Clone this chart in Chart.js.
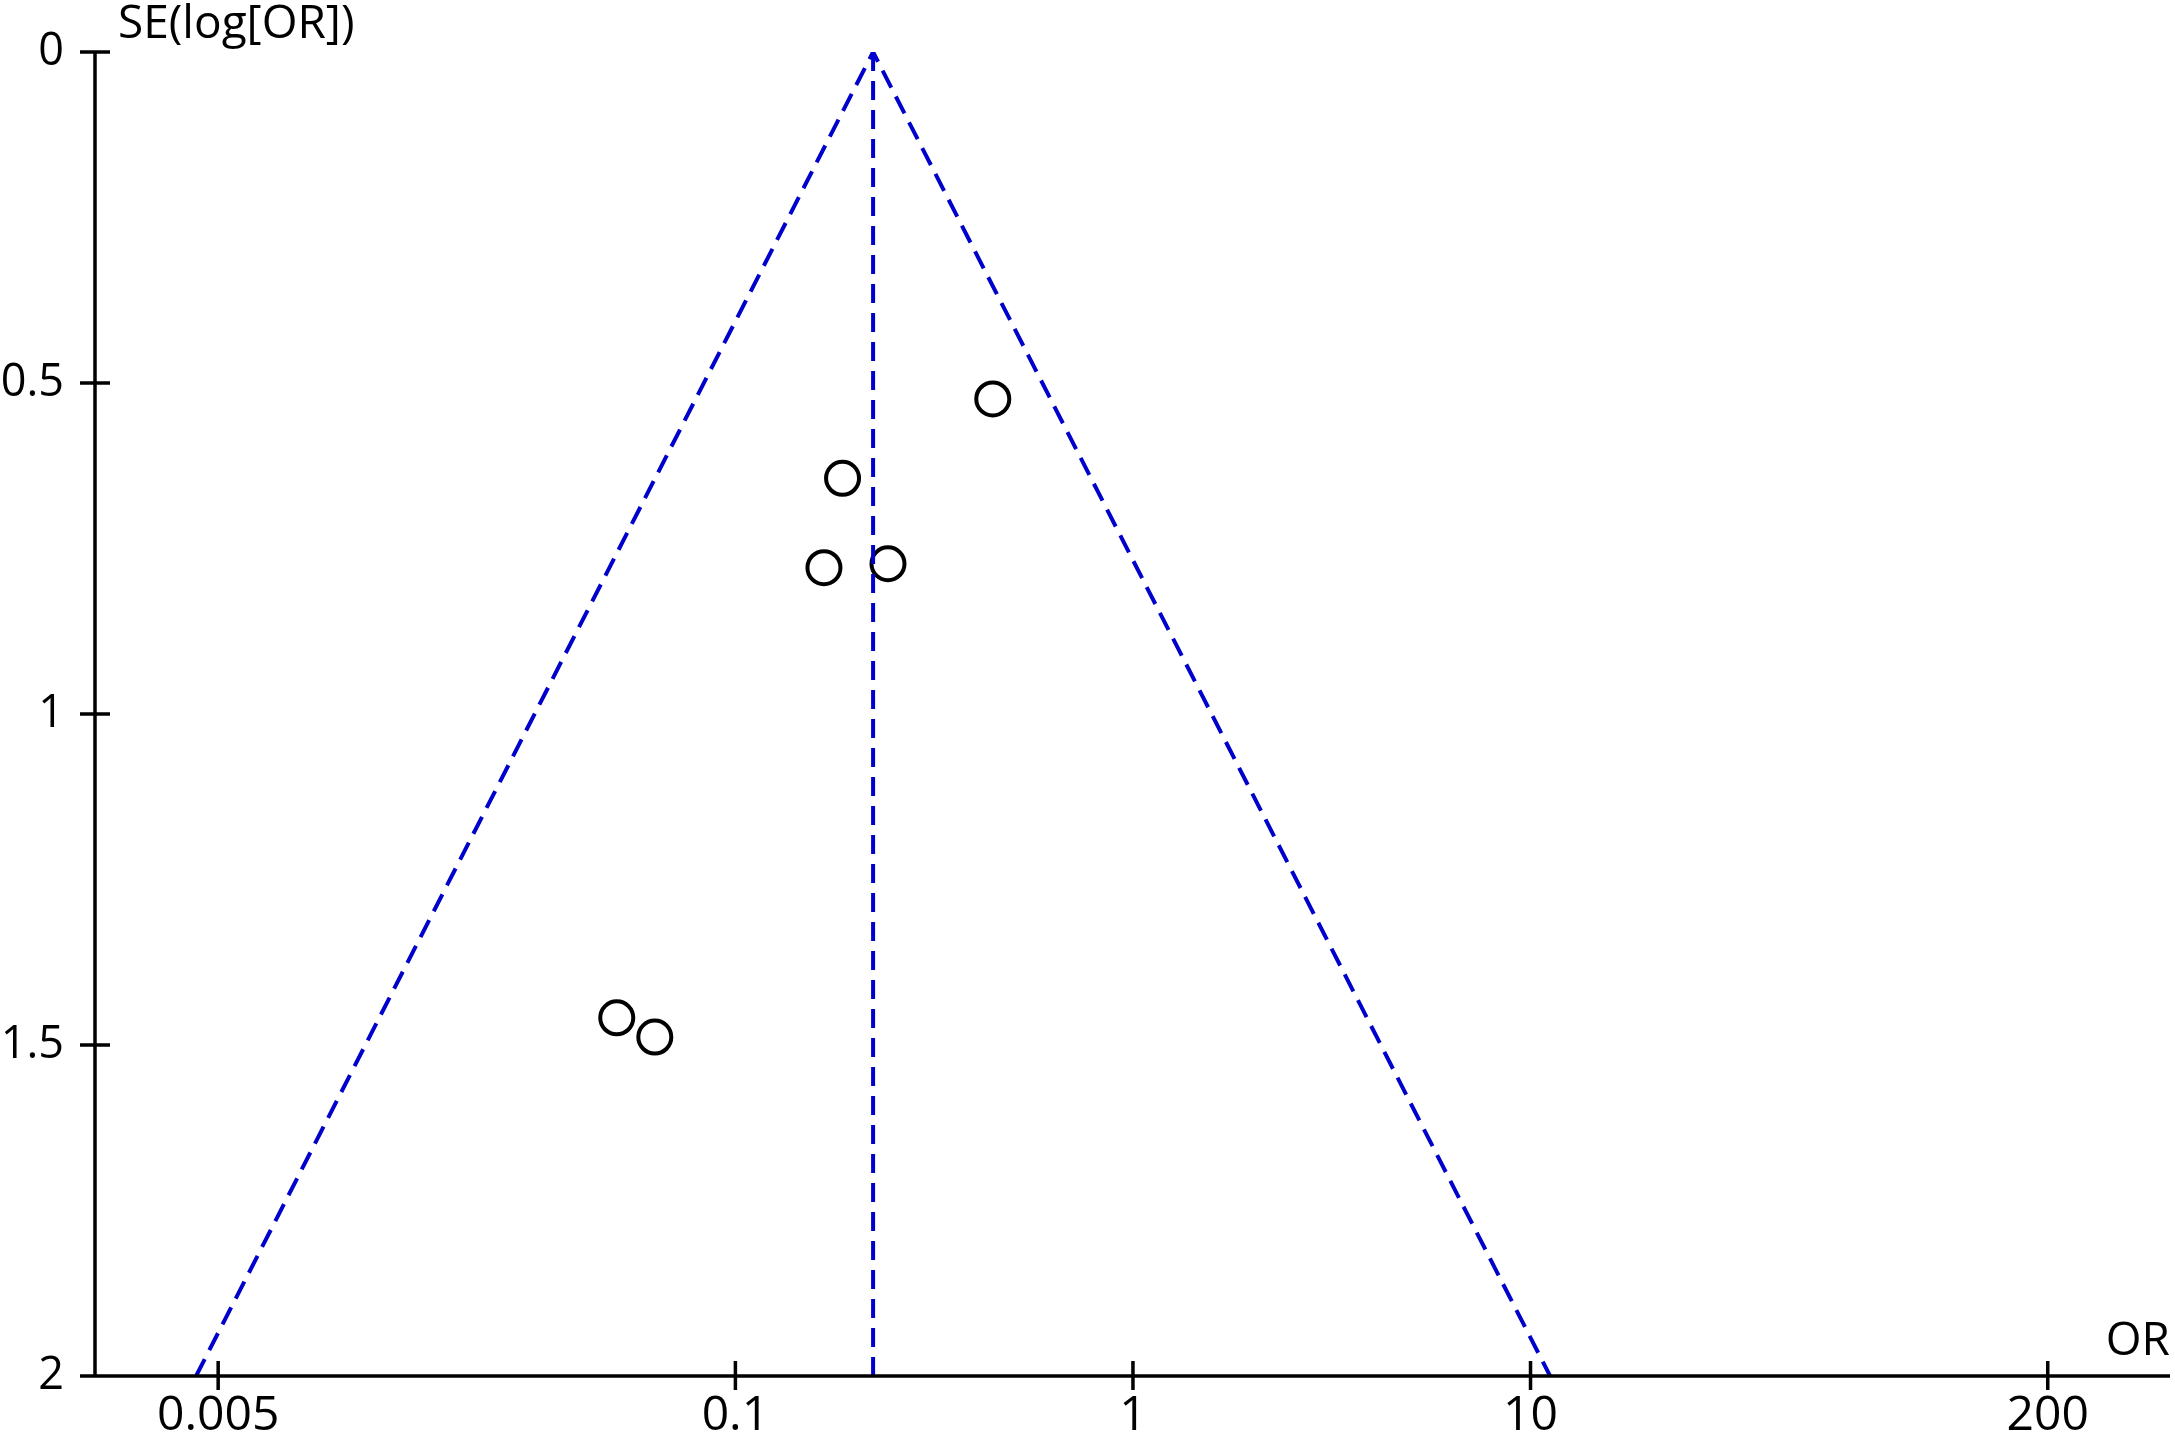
<!DOCTYPE html>
<html lang="en">
<head>
<meta charset="UTF-8">
<title>Funnel plot</title>
<script src="https://cdn.jsdelivr.net/npm/chart.js"></script>
<style>
  html, body { margin: 0; padding: 0; background: #fff; overflow: hidden; }
  canvas { display: block; }
</style>
</head>
<body>
<canvas id="funnel" width="2175" height="1435"></canvas>
<script>
// study estimates
const studyOR = [0.444, 0.186, 0.167, 0.242, 0.0503, 0.0627];
const studySE = [0.524, 0.644, 0.779, 0.773, 1.459, 1.488];

// pooled estimate line and 95% funnel limits
const pooledOR = [0.222, 0.222];
const pooledSE = [0, 2];
const funnelOR = [0.0044, 0.222, 11.2];
const funnelSE = [2, 0, 2];

const xTicks = [0.005, 0.1, 1, 10, 200];
const xTickLabels = ['0.005', '0.1', '1', '10', '200'];
const yTicks = [0, 0.5, 1, 1.5, 2];
const yTickLabels = ['0', '0.5', '1', '1.5', '2'];

const blue = 'rgb(0, 0, 204)';
const font = '"Open Sans", "Noto Sans", sans-serif';

const axesPlugin = {
    id: 'axesPlugin',
    afterDraw(chart) {
        const ctx = chart.ctx;
        const xs = chart.scales.x, ys = chart.scales.y;
        const left = xs.left, bottom = ys.bottom;
        ctx.save();
        ctx.strokeStyle = '#000';
        ctx.lineWidth = 3.5;
        ctx.lineCap = 'butt';
        ctx.beginPath();
        // y axis
        ctx.moveTo(left, ys.getPixelForValue(0));
        ctx.lineTo(left, ys.getPixelForValue(2));
        // x axis
        ctx.moveTo(left - 15, bottom);
        ctx.lineTo(xs.right, bottom);
        yTicks.forEach(v => {
            const y = ys.getPixelForValue(v);
            ctx.moveTo(left - 15, y);
            ctx.lineTo(left + 15, y);
        });
        xTicks.forEach(v => {
            const x = xs.getPixelForValue(v);
            ctx.moveTo(x, bottom - 15);
            ctx.lineTo(x, bottom + 14);
        });
        ctx.stroke();

        ctx.fillStyle = '#000';
        ctx.font = '46px ' + font;
        ctx.textBaseline = 'alphabetic';
        ctx.textAlign = 'left';
        ctx.fillText('SE(log[OR])', left + 23, 38);
        ctx.textAlign = 'right';
        ctx.fillText('OR', xs.right, 1355);
        ctx.restore();
    }
};

new Chart(document.getElementById('funnel'), {
    type: 'scatter',
    data: {
        datasets: [
            {
                type: 'line',
                data: funnelOR.map((v, i) => ({ x: v, y: funnelSE[i] })),
                borderColor: blue,
                borderWidth: 4,
                borderDash: [19, 10],
                pointRadius: 0,
                fill: false,
                tension: 0
            },
            {
                type: 'line',
                data: pooledOR.map((v, i) => ({ x: v, y: pooledSE[i] })),
                borderColor: blue,
                borderWidth: 4,
                borderDash: [19, 10],
                pointRadius: 0,
                fill: false
            },
            {
                data: studyOR.map((v, i) => ({ x: v, y: studySE[i] })),
                pointStyle: 'circle',
                pointRadius: 16.5,
                borderColor: '#000',
                borderWidth: 4,
                backgroundColor: 'rgba(0,0,0,0)'
            }
        ]
    },
    options: {
        responsive: false,
        devicePixelRatio: 1,
        animation: false,
        layout: { autoPadding: false, padding: { top: 52, right: 5, left: 0, bottom: 0 } },
        plugins: { legend: { display: false }, tooltip: { enabled: false } },
        scales: {
            x: {
                type: 'logarithmic',
                min: 0.00245,
                max: 406,
                afterBuildTicks: s => { s.ticks = xTicks.map(v => ({ value: v })); },
                afterFit: s => { s.height = 59; s.paddingLeft = 0; s.paddingRight = 0; },
                grid: { display: false },
                border: { display: false },
                ticks: {
                    autoSkip: false,
                    maxRotation: 0,
                    padding: 4,
                    color: '#000',
                    font: { family: font, size: 48 },
                    callback: (v, i) => xTickLabels[i]
                }
            },
            y: {
                type: 'linear',
                reverse: true,
                min: 0,
                max: 2,
                afterBuildTicks: s => { s.ticks = yTicks.map(v => ({ value: v })); },
                afterFit: s => { s.width = 95; },
                grid: { display: false },
                border: { display: false },
                ticks: {
                    autoSkip: false,
                    padding: 23,
                    color: '#000',
                    font: { family: font, size: 45 },
                    callback: (v, i) => yTickLabels[i]
                }
            }
        }
    },
    plugins: [axesPlugin]
});
</script>
</body>
</html>
